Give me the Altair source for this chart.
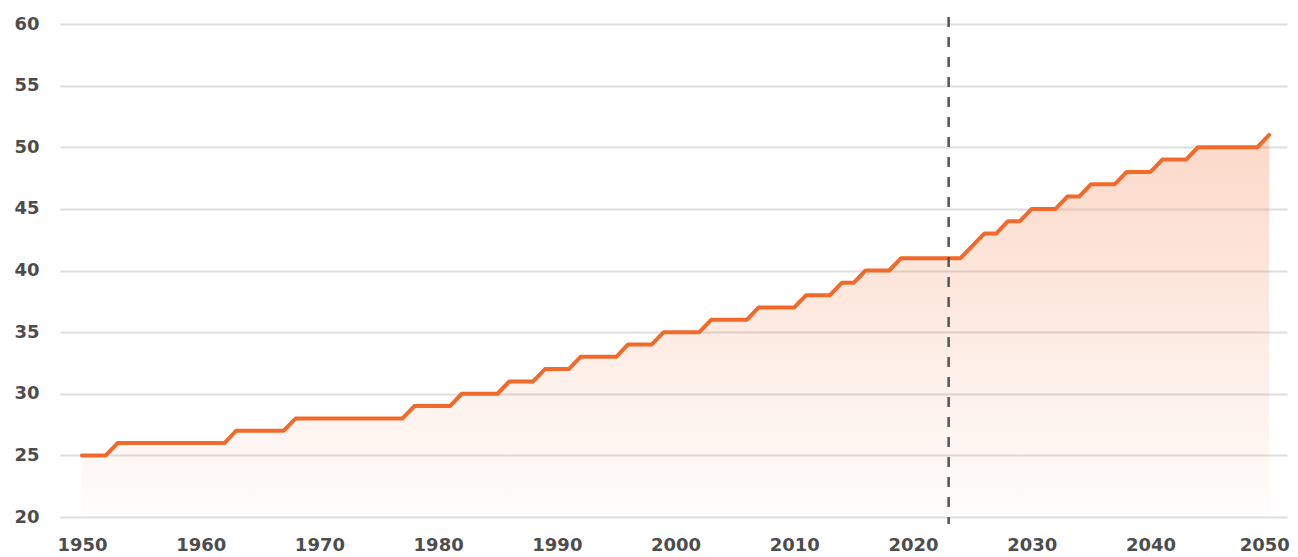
import altair as alt
import pandas as pd

years = list(range(1950, 2051))
values = (
    [25] * 3 +      # 1950-1952
    [26] * 10 +     # 1953-1962
    [27] * 5 +      # 1963-1967
    [28] * 10 +     # 1968-1977
    [29] * 4 +      # 1978-1981
    [30] * 4 +      # 1982-1985
    [31] * 3 +      # 1986-1988
    [32] * 3 +      # 1989-1991
    [33] * 4 +      # 1992-1995
    [34] * 3 +      # 1996-1998
    [35] * 4 +      # 1999-2002
    [36] * 4 +      # 2003-2006
    [37] * 4 +      # 2007-2010
    [38] * 3 +      # 2011-2013
    [39] * 2 +      # 2014-2015
    [40] * 3 +      # 2016-2018
    [41] * 6 +      # 2019-2024
    [42] * 1 +      # 2025
    [43] * 2 +      # 2026-2027
    [44] * 2 +      # 2028-2029
    [45] * 3 +      # 2030-2032
    [46] * 2 +      # 2033-2034
    [47] * 3 +      # 2035-2037
    [48] * 3 +      # 2038-2040
    [49] * 3 +      # 2041-2043
    [50] * 6 +      # 2044-2049
    [51] * 1        # 2050
)
x_ticks = [1950, 1960, 1970, 1980, 1990, 2000, 2010, 2020, 2030, 2040, 2050]
y_ticks = [20, 25, 30, 35, 40, 45, 50, 55, 60]
marker_year = 2023

df = pd.DataFrame({"year": years, "value": values})

ORANGE = "#F26A2B"
LABEL = "#4d4d4d"

x_enc = alt.X(
    "year:Q",
    scale=alt.Scale(domain=[1948.15, 2051.5], nice=False, zero=False),
    axis=alt.Axis(
        values=x_ticks, format="d", title=None, grid=False, domain=False,
        ticks=False, labelPadding=19, labelFlush=False, labelOverlap=False,
        labelOffset=alt.condition(alt.datum.value == 2050, alt.value(-5), alt.value(0)),
    ),
)
y_enc = alt.Y(
    "value:Q",
    scale=alt.Scale(domain=[20, 60], nice=False, zero=False),
    axis=alt.Axis(
        values=y_ticks, title=None, grid=True, domain=False, ticks=False,
        labelPadding=21, gridColor="#dedede", gridWidth=2,
    ),
)

base = alt.Chart(df)

area = base.mark_area(
    color=alt.Gradient(
        gradient="linear",
        stops=[
            alt.GradientStop(color="rgba(242,106,43,0.26)", offset=0),
            alt.GradientStop(color="rgba(242,106,43,0.01)", offset=1),
        ],
        x1=0, x2=0, y1=0, y2=1,
    )
).encode(x=x_enc, y=y_enc, y2=alt.datum(20))

line = base.mark_line(
    color=ORANGE, strokeWidth=4, strokeCap="round", strokeJoin="round"
).encode(x=x_enc, y=y_enc)

rule = alt.Chart(pd.DataFrame({"year": [marker_year]})).mark_rule(
    color="#555555", strokeWidth=2.5, strokeDash=[10, 10]
).encode(
    x=alt.X("year:Q"),
    y=alt.value(-7),
    y2=alt.value(500),
)

chart = (
    alt.layer(area, line, rule)
    .properties(
        width=1227,
        height=493,
        autosize=alt.AutoSizeParams(type="none"),
        padding={"left": 52, "top": 16, "right": 3, "bottom": 40},
    )
    .configure_view(stroke=None)
    .configure_axis(
        labelFont="DejaVu Sans",
        labelFontWeight="bold",
        labelFontSize=18,
        labelColor=LABEL,
    )
)

chart.save("out.html", embed_options={"renderer": "svg", "actions": False})
